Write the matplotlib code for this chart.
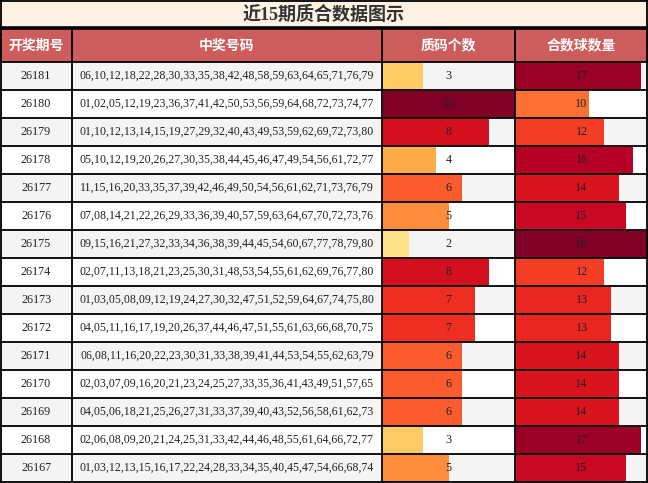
import matplotlib.pyplot as plt
import numpy as np
from matplotlib.patches import Rectangle

# data
title = "近15期质合数据图示"
headers = ["开奖期号", "中奖号码", "质码个数", "合数球数量"]
periods = ["26181", "26180", "26179", "26178", "26177", "26176", "26175", "26174",
           "26173", "26172", "26171", "26170", "26169", "26168", "26167"]
numbers = [
    "06,10,12,18,22,28,30,33,35,38,42,48,58,59,63,64,65,71,76,79",
    "01,02,05,12,19,23,36,37,41,42,50,53,56,59,64,68,72,73,74,77",
    "01,10,12,13,14,15,19,27,29,32,40,43,49,53,59,62,69,72,73,80",
    "05,10,12,19,20,26,27,30,35,38,44,45,46,47,49,54,56,61,72,77",
    "11,15,16,20,33,35,37,39,42,46,49,50,54,56,61,62,71,73,76,79",
    "07,08,14,21,22,26,29,33,36,39,40,57,59,63,64,67,70,72,73,76",
    "09,15,16,21,27,32,33,34,36,38,39,44,45,54,60,67,77,78,79,80",
    "02,07,11,13,18,21,23,25,30,31,48,53,54,55,61,62,69,76,77,80",
    "01,03,05,08,09,12,19,24,27,30,32,47,51,52,59,64,67,74,75,80",
    "04,05,11,16,17,19,20,26,37,44,46,47,51,55,61,63,66,68,70,75",
    "06,08,11,16,20,22,23,30,31,33,38,39,41,44,53,54,55,62,63,79",
    "02,03,07,09,16,20,21,23,24,25,27,33,35,36,41,43,49,51,57,65",
    "04,05,06,18,21,25,26,27,31,33,37,39,40,43,52,56,58,61,62,73",
    "02,06,08,09,20,21,24,25,31,33,42,44,46,48,55,61,64,66,72,77",
    "01,03,12,13,15,16,17,22,24,28,33,34,35,40,45,47,54,66,68,74",
]
prime_count = np.array([3, 10, 8, 4, 6, 5, 2, 8, 7, 7, 6, 6, 6, 3, 5])
composite_count = np.array([17, 10, 12, 16, 14, 15, 18, 12, 13, 13, 14, 14, 14, 17, 15])

# layout (pixels)
W, H = 648, 483
col_x = [0, 72, 382, 515, 648]
title_h = 28
head_top, head_bot = 29, 62
row_h = 28

cjk = ['Noto Sans CJK SC', 'DejaVu Sans']
serif = ['Liberation Serif', 'DejaVu Serif']

fig = plt.figure(figsize=(6.48, 4.83), dpi=100)
ax = fig.add_axes([0, 0, 1, 1])
ax.set_xlim(0, W)
ax.set_ylim(H, 0)
ax.axis('off')

# title band
ax.add_patch(Rectangle((0, 0), W, title_h, color='#fdf2e3', zorder=0))
ax.text(W / 2, title_h / 2 + 1, title, ha='center', va='center', fontsize=13,
        fontweight='bold', color='#333333', family=['Liberation Serif', 'Noto Sans CJK SC'])

# header band
ax.add_patch(Rectangle((0, head_top), W, head_bot - head_top, color='#cd5c5c', zorder=0))
for i, h in enumerate(headers):
    ax.text((col_x[i] + col_x[i + 1]) / 2, (head_top + head_bot) / 2, h, ha='center',
            va='center', fontsize=10, fontweight='bold', color='white', family=cjk)

# rows
n = len(periods)
row_top = head_bot + np.arange(n) * row_h
row_mid = row_top + row_h / 2
for i in range(n):
    bg = '#f4f4f4' if i % 2 == 0 else 'white'
    ax.add_patch(Rectangle((0, row_top[i]), W, row_h, color=bg, zorder=0))
    ax.text((col_x[0] + col_x[1]) / 2, row_mid[i], periods[i], ha='center', va='center',
            fontsize=8.7, color='#222222', family=serif)
    ax.text((col_x[1] + col_x[2]) / 2, row_mid[i], numbers[i], ha='center', va='center',
            fontsize=8.6, color='#222222', family=serif)

cmap = plt.get_cmap('YlOrRd')
for k, vals in enumerate([prime_count, composite_count]):
    x0, x1 = col_x[k + 2], col_x[k + 3]
    frac = vals / vals.max()
    ax.barh(row_mid, frac * (x1 - x0 - 1), left=x0 + 1, height=row_h - 1,
            color=cmap(frac), edgecolor='none', zorder=1)
    for i in range(n):
        ax.text((x0 + x1) / 2, row_mid[i], str(vals[i]), ha='center', va='center',
                fontsize=8.7, color='#222222', family=serif, zorder=3)

# grid lines
lw = 1.3
ax.hlines(row_top[1:], 0, W, color='black', lw=lw, zorder=2)
ax.hlines([head_bot], 0, W, color='black', lw=lw, zorder=2)
ax.hlines([title_h], 0, W, color='black', lw=2.6, zorder=2)
ax.vlines(col_x[1:-1], head_top, H, color='black', lw=lw, zorder=2)
ax.vlines([0.6, W - 0.6], 0, H, color='black', lw=lw, zorder=2)
ax.hlines([0.6, H - 0.6], 0, W, color='black', lw=lw, zorder=2)

fig.savefig('out.png', dpi=100)
